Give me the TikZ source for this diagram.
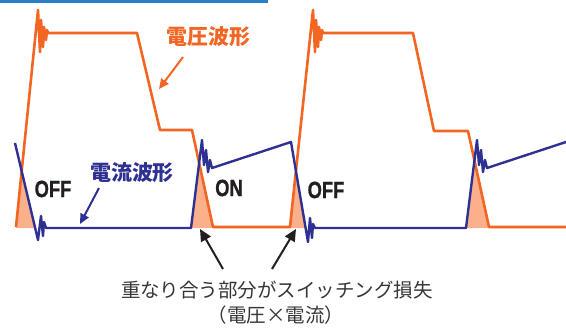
\documentclass[tikz,border=0pt]{standalone}
\usepackage{fontspec}
\newfontfamily\jp{Noto Sans CJK JP}
\newfontfamily\latb{Liberation Sans Bold}[FakeBold=1.2]
\usetikzlibrary{arrows.meta}
\definecolor{vcol}{HTML}{F26522}
\definecolor{icol}{HTML}{2E3192}
\definecolor{fcol}{HTML}{F9B08B}
\definecolor{tcol}{HTML}{231F20}
\definecolor{barcol}{HTML}{2A80C6}
\tikzset{
  vwave/.style={draw=vcol, line width=2.6pt, line join=round},
  iwave/.style={draw=icol, line width=2.4pt, line join=round},
  vlab/.style={text=vcol, font=\jp\bfseries\fontsize{21}{23}\selectfont, inner sep=0pt},
  ilab/.style={text=icol, font=\jp\bfseries\fontsize{21}{23}\selectfont, inner sep=0pt},
  statelab/.style={text=tcol, font=\latb\bfseries\fontsize{23.5}{25}\selectfont, inner sep=0pt},
  note/.style={text=tcol!90, font=\jp\fontsize{19.5}{22}\selectfont, inner sep=0pt},
  varrow/.style={draw=vcol, line width=2pt, -{Triangle[length=10pt,width=9pt]}},
  iarrow/.style={draw=icol, line width=2pt, -{Triangle[length=10pt,width=9pt]}},
  karrow/.style={draw=tcol, line width=2pt, -{Triangle[length=12pt,width=11pt]}},
  topbar/.style={draw=barcol, line width=3pt}
}
\begin{document}
\begin{tikzpicture}[x=1pt,y=-1pt]
\useasboundingbox (0,0) rectangle (566,330);
% top bar
\coordinate (barL) at (0,1.5);
\coordinate (barR) at (268,1.5);
\draw[topbar] (barL) -- (barR);
% overlap fill
\begin{scope}
  \clip (15,143) -- (38,240) -- (41,216) -- (43,236) -- (44,222) -- (46,228) -- (191,228)
    -- (202,140) -- (204,165) -- (206,150) -- (208,172) -- (210,160) -- (212,168)
    -- (291,142) -- (308,242) -- (310,218) -- (312,238) -- (313,224) -- (315,228)
    -- (466,228) -- (477,140) -- (479,165) -- (481,150) -- (483,172) -- (485,160) -- (487,168)
    -- (566,142) -- (566,240) -- (15,240) -- cycle;
  \fill[fcol] (16,227) -- (38,10) -- (137,33) -- (160,130) -- (192,130) -- (213,227)
    -- (290,227) -- (313,10) -- (413,33) -- (434,131) -- (468,131) -- (489,227)
    -- (566,227) -- (566,228) -- (16,228) -- cycle;
\end{scope}
% voltage waveform
\draw[vwave] (16,227) -- (38,10) -- (40,52) -- (41,20) -- (43,47) -- (44,27) -- (46,40)
  -- (47,30) -- (48,33) -- (137,33) -- (160,130) -- (192,130) -- (213,227)
  -- (290,227) -- (313,10) -- (315,52) -- (316,20) -- (318,47) -- (319,27) -- (321,40)
  -- (322,30) -- (323,33) -- (413,33) -- (434,131) -- (468,131) -- (489,227) -- (566,227);
% current waveform
\draw[iwave] (15,143) -- (38,240) -- (41,216) -- (43,236) -- (44,222) -- (46,228) -- (191,228)
    -- (202,140) -- (204,165) -- (206,150) -- (208,172) -- (210,160) -- (212,168)
    -- (291,142) -- (308,242) -- (310,218) -- (312,238) -- (313,224) -- (315,228)
    -- (466,228) -- (477,140) -- (479,165) -- (481,150) -- (483,172) -- (485,160) -- (487,168)
    -- (566,142);
% labels
\node[vlab] (vl) at (208,37) {電圧波形};
\coordinate (vtail) at (183,57);
\coordinate (vtip) at (159,89);
\draw[varrow] (vtail) -- (vtip);
\node[ilab] (il) at (132,173) {電流波形};
\coordinate (itail) at (99,188);
\coordinate (itip) at (80,224);
\draw[iarrow] (itail) -- (itip);
\node[statelab] (off1) at (53,189) {\scalebox{0.78}[1]{OFF}};
\node[statelab] (on1) at (229,188) {\scalebox{0.78}[1]{ON}};
\node[statelab] (off2) at (326,190) {\scalebox{0.78}[1]{OFF}};
\node[note] (n1) at (277,290) {重なり合う部分がスイッチング損失};
\node[note] (n2) at (276,315) {（電圧×電流）};
\coordinate (k1tail) at (223,269);
\coordinate (k1tip) at (200,229);
\coordinate (k2tail) at (272,269);
\coordinate (k2tip) at (296,229);
\draw[karrow] (k1tail) -- (k1tip);
\draw[karrow] (k2tail) -- (k2tip);
\end{tikzpicture}
\end{document}
